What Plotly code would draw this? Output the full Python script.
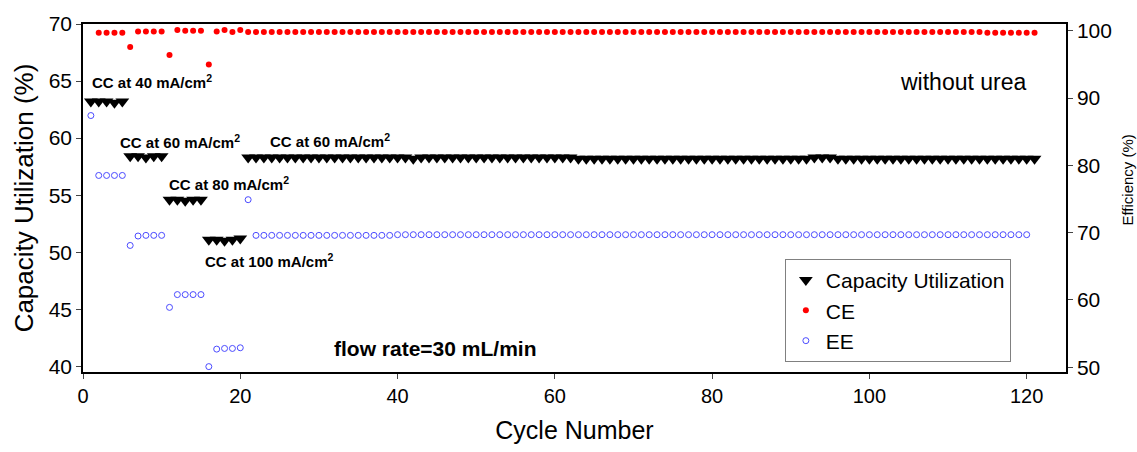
import plotly.graph_objects as go

cycles = list(range(1, 122))

cap_util = [
    63.2, 63.2, 63.2, 63.1, 63.2,
    58.4, 58.4, 58.3, 58.4, 58.4,
    54.6, 54.6, 54.5, 54.6, 54.6,
    51.1, 51.1, 51.0, 51.1, 51.2,
    58.3, 58.3, 58.3, 58.3, 58.3, 58.3, 58.3, 58.3, 58.3, 58.3,
    58.3, 58.3, 58.3, 58.3, 58.3, 58.3, 58.3, 58.3, 58.3, 58.3,
    58.3, 58.2, 58.3, 58.3, 58.3, 58.3, 58.3, 58.3, 58.3, 58.3,
    58.3, 58.3, 58.3, 58.3, 58.3, 58.3, 58.3, 58.3, 58.3, 58.3,
    58.3, 58.3, 58.2, 58.2, 58.2, 58.2, 58.2, 58.2, 58.2, 58.2,
    58.2, 58.2, 58.2, 58.2, 58.2, 58.2, 58.2, 58.2, 58.2, 58.2,
    58.2, 58.2, 58.2, 58.2, 58.2, 58.2, 58.2, 58.2, 58.2, 58.2,
    58.2, 58.2, 58.3, 58.3, 58.3, 58.2, 58.2, 58.2, 58.2, 58.2,
    58.2, 58.2, 58.2, 58.2, 58.2, 58.2, 58.2, 58.2, 58.2, 58.2,
    58.2, 58.2, 58.2, 58.2, 58.2, 58.2, 58.2, 58.2, 58.2, 58.2,
    58.2,
]

ce = [
    None, 99.7, 99.7, 99.7, 99.7,
    97.6, 99.9, 99.9, 99.9, 99.9,
    96.4, 100.1, 100.0, 100.0, 100.0,
    95.0, 99.9, 100.1, 99.8, 100.1,
    99.8, 99.8, 99.8, 99.8, 99.8, 99.8, 99.8, 99.8, 99.8, 99.8,
    99.8, 99.8, 99.8, 99.8, 99.8, 99.8, 99.8, 99.8, 99.8, 99.8,
    99.8, 99.8, 99.8, 99.8, 99.8, 99.8, 99.8, 99.8, 99.8, 99.8,
    99.8, 99.8, 99.8, 99.8, 99.8, 99.8, 99.8, 99.8, 99.8, 99.8,
    99.8, 99.8, 99.8, 99.8, 99.8, 99.8, 99.8, 99.8, 99.8, 99.8,
    99.8, 99.8, 99.8, 99.8, 99.8, 99.8, 99.8, 99.8, 99.8, 99.8,
    99.8, 99.8, 99.8, 99.8, 99.8, 99.8, 99.8, 99.8, 99.8, 99.8,
    99.8, 99.8, 99.8, 99.8, 99.8, 99.8, 99.8, 99.8, 99.8, 99.8,
    99.8, 99.8, 99.8, 99.8, 99.8, 99.8, 99.8, 99.8, 99.8, 99.8,
    99.8, 99.8, 99.8, 99.8, 99.7, 99.7, 99.7, 99.7, 99.7, 99.7,
    99.7,
]

ee = [
    87.4, 78.5, 78.5, 78.5, 78.5,
    68.1, 69.5, 69.6, 69.6, 69.6,
    58.9, 60.8, 60.8, 60.8, 60.8,
    50.1, 52.7, 52.8, 52.8, 52.9,
    74.9,
    69.6, 69.6, 69.6, 69.6, 69.6, 69.6, 69.6, 69.6, 69.6,
    69.6, 69.6, 69.6, 69.6, 69.6, 69.6, 69.6, 69.6, 69.6, 69.7,
    69.7, 69.7, 69.7, 69.7, 69.7, 69.7, 69.7, 69.7, 69.7, 69.7,
    69.7, 69.7, 69.7, 69.7, 69.7, 69.7, 69.7, 69.7, 69.7, 69.7,
    69.7, 69.7, 69.7, 69.7, 69.7, 69.7, 69.7, 69.7, 69.7, 69.7,
    69.7, 69.7, 69.7, 69.7, 69.7, 69.7, 69.7, 69.7, 69.7, 69.7,
    69.7, 69.7, 69.7, 69.7, 69.7, 69.7, 69.7, 69.7, 69.7, 69.7,
    69.7, 69.7, 69.7, 69.7, 69.7, 69.7, 69.7, 69.7, 69.7, 69.7,
    69.7, 69.7, 69.7, 69.7, 69.7, 69.7, 69.7, 69.7, 69.7, 69.7,
    69.7, 69.7, 69.7, 69.7, 69.7, 69.7, 69.7, 69.7, 69.7, 69.7,
]

x_ticks = [0, 20, 40, 60, 80, 100, 120]
left_ticks = [40, 45, 50, 55, 60, 65, 70]
right_ticks = [50, 60, 70, 80, 90, 100]

FONT = "Arial, Liberation Sans, sans-serif"

fig = go.Figure()
fig.add_trace(go.Scatter(
    x=cycles, y=cap_util, mode="markers", name="Capacity Utilization",
    marker=dict(symbol="triangle-down", size=12, color="black"),
    yaxis="y",
))
fig.add_trace(go.Scatter(
    x=cycles, y=ce, mode="markers", name="CE",
    marker=dict(symbol="circle", size=6, color="#ff0000"),
    yaxis="y2",
))
fig.add_trace(go.Scatter(
    x=cycles, y=ee, mode="markers", name="EE",
    marker=dict(symbol="circle-open", size=6, color="#4b4bff", line=dict(width=1)),
    yaxis="y2",
))

# (x data, y data on left axis, text, size, bold)
notes = [
    (0.9, 65.0, "CC at 40 mA/cm<sup>2</sup>", 15, True),
    (4.45, 59.66, "CC at 60 mA/cm<sup>2</sup>", 15, True),
    (23.5, 59.83, "CC at 60 mA/cm<sup>2</sup>", 15, True),
    (10.7, 56.0, "CC at 80 mA/cm<sup>2</sup>", 15, True),
    (15.3, 49.24, "CC at 100 mA/cm<sup>2</sup>", 15, True),
    (31.7, 41.6, "flow rate=30 mL/min", 21, True),
    (103.6, 64.9, "without urea", 23, False),
]

anns = []
for xv, yv, txt, fs, bold in notes:
    anns.append(dict(
        x=xv, y=yv, xref="x", yref="y",
        text=("<b>" + txt + "</b>") if bold else txt, showarrow=False,
        xanchor="left", yanchor="middle",
        font=dict(family=FONT, size=fs, color="black"),
    ))
pw, ph = 1137 - 83 - 71, 452 - 23 - 69
anns.append(dict(
    x=(1128 - 83) / pw, y=(383 - 185) / ph, xref="paper", yref="paper",
    text="Efficiency (%)", showarrow=False,
    textangle=-90, xanchor="center", yanchor="middle",
    font=dict(family=FONT, size=15, color="black"),
))

fig.update_layout(
    width=1137, height=452,
    margin=dict(l=83, r=71, t=23, b=69),
    paper_bgcolor="white", plot_bgcolor="white",
    font=dict(family=FONT, color="black"),
    showlegend=True,
    legend=dict(
        x=0.714, y=0.325, xanchor="left", yanchor="top",
        bordercolor="#808080", borderwidth=1, bgcolor="white",
        font=dict(family=FONT, size=21, color="black"),
        itemsizing="trace", tracegroupgap=0,
        entrywidth=225, entrywidthmode="pixels",
    ),
    xaxis=dict(
        range=[0, 125], tickvals=x_ticks, ticks="outside", ticklen=5,
        showline=True, linecolor="black", linewidth=1.5, mirror=True,
        showgrid=False, zeroline=False,
        tickfont=dict(family=FONT, size=20, color="black"),
        title=dict(text="Cycle Number", font=dict(family=FONT, size=25, color="black"), standoff=16),
    ),
    yaxis=dict(
        range=[39.5, 70.0], tickvals=left_ticks, ticks="outside", ticklen=5,
        showline=True, linecolor="black", linewidth=1.5,
        showgrid=False, zeroline=False,
        tickfont=dict(family=FONT, size=21, color="black"),
        title=dict(text="Capacity Utilization (%)", font=dict(family=FONT, size=26, color="black"), standoff=8),
    ),
    yaxis2=dict(
        range=[49.3, 101.0], tickvals=right_ticks, ticks="outside", ticklen=5,
        overlaying="y", side="right",
        showline=True, linecolor="black", linewidth=1.5,
        showgrid=False, zeroline=False,
        tickfont=dict(family=FONT, size=21, color="black"),
    ),
    annotations=anns,
)

fig.write_html("out.html")
